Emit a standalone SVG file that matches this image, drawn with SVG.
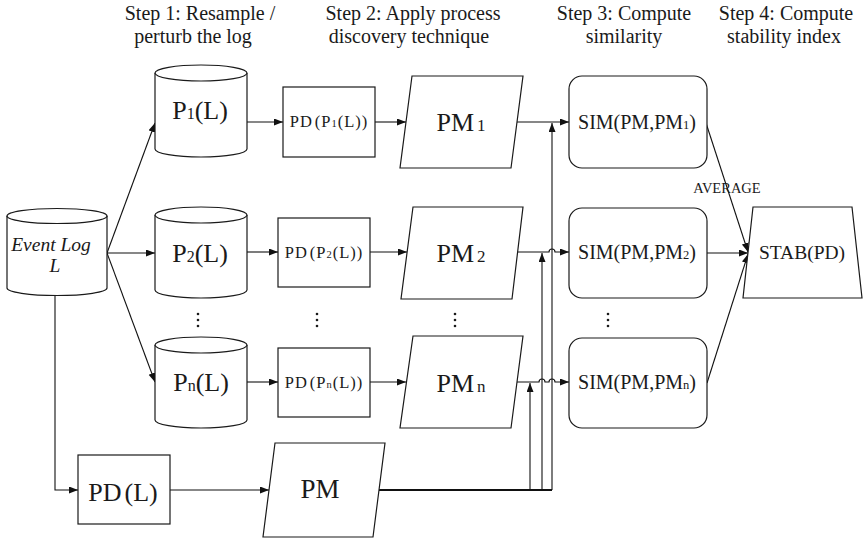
<svg xmlns="http://www.w3.org/2000/svg" width="864" height="539" viewBox="0 0 864 539">
  <style>
    .shape { fill: #ffffff; stroke: #1a1a1a; stroke-width: 1.2; }
    .conn { fill: none; stroke: #111111; stroke-width: 1.1; }
    .bold { fill: none; stroke: #111111; stroke-width: 1.9; }
    text { font-family: "Liberation Serif", "Times New Roman", serif; fill: #1a1a1a; }
    .step { font-size: 20px; text-anchor: middle; }
    .big { font-size: 26px; text-anchor: middle; }
    .pd { font-size: 16.5px; text-anchor: middle; letter-spacing: 1px; }
    .sim { font-size: 20px; text-anchor: middle; }
    .dot { fill: #1a1a1a; }
  </style>
  <defs>
    <marker id="arrow" markerUnits="userSpaceOnUse" markerWidth="10" markerHeight="8" refX="9" refY="3.5" orient="auto">
      <path d="M0,0 L9,3.5 L0,7 z" fill="#111111"/>
    </marker>
  </defs>

  <!-- column headings -->
  <g id="headings">
    <text class="step" x="200" y="20">Step 1: Resample /</text>
    <text class="step" x="193" y="43">perturb the log</text>
    <text class="step" x="413" y="20">Step 2: Apply process</text>
    <text class="step" x="409" y="43">discovery technique</text>
    <text class="step" x="624" y="20">Step 3: Compute</text>
    <text class="step" x="624" y="43">similarity</text>
    <text class="step" x="786" y="20">Step 4: Compute</text>
    <text class="step" x="784" y="43">stability index</text>
  </g>

  <!-- connectors -->
  <g id="connectors">
    <!-- event log to resampled logs -->
    <path class="conn" d="M107,253 L155,123" marker-end="url(#arrow)"/>
    <path class="conn" d="M107,253 L155,253" marker-end="url(#arrow)"/>
    <path class="conn" d="M107,253 L155,382" marker-end="url(#arrow)"/>
    <!-- resampled logs to discovery -->
    <path class="conn" d="M247,122 L283,122" marker-end="url(#arrow)"/>
    <path class="conn" d="M247,252 L278,252" marker-end="url(#arrow)"/>
    <path class="conn" d="M247,382 L278,382" marker-end="url(#arrow)"/>
    <!-- discovery to models -->
    <path class="conn" d="M375,122 L406,122" marker-end="url(#arrow)"/>
    <path class="conn" d="M370,252 L407,252" marker-end="url(#arrow)"/>
    <path class="conn" d="M370,382 L406,382" marker-end="url(#arrow)"/>
    <!-- models to similarity, with line hops -->
    <path class="conn" d="M517,122 L569,122" marker-end="url(#arrow)"/>
    <path class="conn" d="M517,252 H549 A3,3 0 0 1 555,252 H569" marker-end="url(#arrow)"/>
    <path class="conn" d="M517,382 H539 A3,3 0 0 1 545,382 H549 A3,3 0 0 1 555,382 H569" marker-end="url(#arrow)"/>
    <!-- reference model branches -->
    <path class="bold" d="M379,490 H552"/>
    <path class="conn" d="M530,490 V383" marker-end="url(#arrow)"/>
    <path class="conn" d="M542,490 V253" marker-end="url(#arrow)"/>
    <path class="conn" d="M552,490 V123" marker-end="url(#arrow)"/>
    <!-- event log to reference discovery -->
    <path class="conn" d="M55,296 V490 H78" marker-end="url(#arrow)"/>
    <path class="conn" d="M170,490 L269,490" marker-end="url(#arrow)"/>
    <!-- similarities to stability -->
    <path class="conn" d="M706,123 L748,252" marker-end="url(#arrow)"/>
    <path class="conn" d="M707,253 L748,253" marker-end="url(#arrow)"/>
    <path class="conn" d="M707,383 L748,254" marker-end="url(#arrow)"/>
    <text x="727" y="193" font-size="14.5" text-anchor="middle">AVERAGE</text>
  </g>

  <!-- input event log -->
  <g id="event-log">
    <path class="shape" d="M7,216 V288 A50,7.5 0 0 0 107,288 V216"/>
    <ellipse class="shape" cx="57" cy="216" rx="50" ry="7.5"/>
    <text x="51" y="251" font-size="19.5" font-style="italic" text-anchor="middle">Event Log</text>
    <text x="55" y="272" font-size="19.5" font-style="italic" text-anchor="middle">L</text>
  </g>

  <!-- resampled logs -->
  <g id="log-p1">
    <path class="shape" d="M155,73 V149 A46,8 0 0 0 247,149 V73"/>
    <ellipse class="shape" cx="201" cy="73" rx="46" ry="8"/>
    <text class="big" x="200" y="119">P<tspan font-size="16">1</tspan>(L)</text>
  </g>
  <g id="log-p2">
    <path class="shape" d="M155,215 V290 A46,8 0 0 0 247,290 V215"/>
    <ellipse class="shape" cx="201" cy="215" rx="46" ry="8"/>
    <text class="big" x="200" y="262">P<tspan font-size="16">2</tspan>(L)</text>
  </g>
  <g id="log-pn">
    <path class="shape" d="M155,345 V420 A46,8 0 0 0 247,420 V345"/>
    <ellipse class="shape" cx="201" cy="345" rx="46" ry="8"/>
    <text class="big" x="201" y="391">P<tspan font-size="16">n</tspan>(L)</text>
  </g>

  <!-- discovery on resampled logs -->
  <g id="pd-p1">
    <rect class="shape" x="283" y="87" width="92" height="70"/>
    <text class="pd" x="329" y="127">PD<tspan dx="2">(P</tspan><tspan font-size="10.5">1</tspan>(L))</text>
  </g>
  <g id="pd-p2">
    <rect class="shape" x="278" y="218" width="92" height="69"/>
    <text class="pd" x="324" y="258">PD<tspan dx="2">(P</tspan><tspan font-size="10.5">2</tspan>(L))</text>
  </g>
  <g id="pd-pn">
    <rect class="shape" x="278" y="348" width="92" height="69"/>
    <text class="pd" x="324" y="388">PD<tspan dx="2">(P</tspan><tspan font-size="10.5">n</tspan>(L))</text>
  </g>

  <!-- discovered models -->
  <g id="pm-1">
    <polygon class="shape" points="412,76 523,76 511,168 400,168"/>
    <text class="big" x="461" y="131">PM<tspan dx="3" font-size="17">1</tspan></text>
  </g>
  <g id="pm-2">
    <polygon class="shape" points="413,207 523,207 512,299 401,299"/>
    <text class="big" x="461" y="262">PM<tspan dx="3" font-size="17">2</tspan></text>
  </g>
  <g id="pm-n">
    <polygon class="shape" points="413,336 523,336 511,428 400,428"/>
    <text class="big" x="461" y="392">PM<tspan dx="3" font-size="17">n</tspan></text>
  </g>

  <!-- similarity computations -->
  <g id="sim-1">
    <rect class="shape" x="569" y="76" width="138" height="92" rx="13"/>
    <text class="sim" x="637" y="129">SIM(PM,PM<tspan font-size="12.5">1</tspan>)</text>
  </g>
  <g id="sim-2">
    <rect class="shape" x="569" y="208" width="138" height="90" rx="13"/>
    <text class="sim" x="637" y="259">SIM(PM,PM<tspan font-size="12.5">2</tspan>)</text>
  </g>
  <g id="sim-n">
    <rect class="shape" x="569" y="338" width="138" height="90" rx="13"/>
    <text class="sim" x="637" y="389">SIM(PM,PM<tspan font-size="12.5">n</tspan>)</text>
  </g>

  <!-- stability index -->
  <g id="stab">
    <polygon class="shape" points="753,207 852,207 862,298 743,298"/>
    <text x="802" y="259" font-size="19.5" text-anchor="middle">STAB(PD)</text>
  </g>

  <!-- reference discovery and model -->
  <g id="pd-l">
    <rect class="shape" x="78" y="455" width="92" height="69"/>
    <text x="123" y="501" font-size="26" text-anchor="middle">PD<tspan dx="3">(L)</tspan></text>
  </g>
  <g id="pm">
    <polygon class="shape" points="275,443 385,443 373,537 263,537"/>
    <text x="320" y="498" font-size="27" text-anchor="middle">PM</text>
  </g>

  <!-- continuation marks -->
  <g id="ellipses">
    <circle class="dot" cx="198" cy="314" r="1.3"/>
    <circle class="dot" cx="198" cy="320" r="1.3"/>
    <circle class="dot" cx="198" cy="326" r="1.3"/>
    <circle class="dot" cx="317" cy="314" r="1.3"/>
    <circle class="dot" cx="317" cy="320" r="1.3"/>
    <circle class="dot" cx="317" cy="326" r="1.3"/>
    <circle class="dot" cx="455" cy="314" r="1.3"/>
    <circle class="dot" cx="455" cy="320" r="1.3"/>
    <circle class="dot" cx="455" cy="326" r="1.3"/>
    <circle class="dot" cx="608" cy="314" r="1.3"/>
    <circle class="dot" cx="608" cy="320" r="1.3"/>
    <circle class="dot" cx="608" cy="326" r="1.3"/>
  </g>
</svg>
